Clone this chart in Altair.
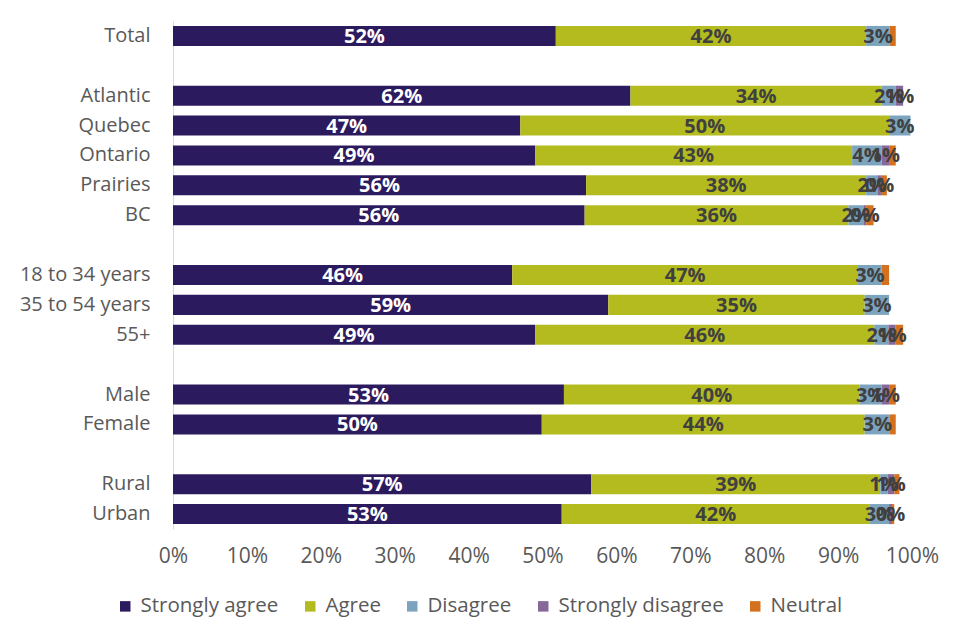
import altair as alt
import pandas as pd

categories = ["Total", "Atlantic", "Quebec", "Ontario", "Prairies", "BC",
              "18 to 34 years", "35 to 54 years", "55+", "Male", "Female", "Rural", "Urban"]
responses = ["Strongly agree", "Agree", "Disagree", "Strongly disagree", "Neutral"]
colors = ["#2C1A5E", "#B3BB1F", "#7DA4BE", "#86699A", "#D5701E"]

strongly_agree = [51.8, 61.9, 47.0, 49.0, 55.9, 55.7, 45.9, 58.9, 49.0, 52.9, 49.9, 56.6, 52.6]
agree = [42.0, 34.0, 49.9, 42.9, 37.9, 35.7, 46.8, 34.7, 45.9, 40.0, 43.7, 39.1, 41.7]
disagree = [3.2, 1.9, 2.9, 4.0, 1.6, 2.1, 3.2, 3.3, 1.9, 3.0, 3.4, 1.0, 2.6]
strongly_disagree = [0.0, 1.0, 0.0, 1.0, 0.4, 0.3, 0.0, 0.0, 1.0, 1.0, 0.0, 0.9, 0.4]
neutral = [0.8, 0.0, 0.0, 0.9, 0.8, 1.0, 1.0, 0.0, 1.0, 0.9, 0.8, 0.7, 0.3]

row_order = ["Total", " ", "Atlantic", "Quebec", "Ontario", "Prairies", "BC", "  ",
             "18 to 34 years", "35 to 54 years", "55+", "   ", "Male", "Female", "    ",
             "Rural", "Urban"]
x_ticks = [0, 0.1, 0.2, 0.3, 0.4, 0.5, 0.6, 0.7, 0.8, 0.9, 1.0]

series = [strongly_agree, agree, disagree, strongly_disagree, neutral]
rows = []
for ri, (resp, vals) in enumerate(zip(responses, series)):
    for cat, v in zip(categories, vals):
        rows.append({"cat": cat, "response": resp, "order": ri, "value": v / 100.0})
df = pd.DataFrame(rows)

base = alt.Chart(df).transform_stack(
    stack="value", groupby=["cat"], sort=[alt.SortField("order")], as_=["v0", "v1"]
).transform_calculate(mid="(datum.v0 + datum.v1) / 2")

yenc = alt.Y("cat:N", scale=alt.Scale(domain=row_order, paddingInner=0.33, paddingOuter=0.165),
             axis=alt.Axis(title=None, ticks=False, labelFontSize=20, labelColor="#595959",
                           labelFont="Open Sans", labelPadding=23, domainColor="#D9D9D9",
                           domainWidth=1))

bars = base.mark_bar().encode(
    x=alt.X("v0:Q", scale=alt.Scale(domain=[0, 1], nice=False),
            axis=alt.Axis(title=None, values=x_ticks, format=".0%", grid=False, ticks=False,
                          domain=False, labelFontSize=21, labelColor="#595959",
                          labelFont="Open Sans", labelPadding=16, labelOverlap=False,
                          labelFlush=False)),
    x2="v1:Q",
    y=yenc,
    color=alt.Color("response:N", scale=alt.Scale(domain=responses, range=colors),
                    sort=responses,
                    legend=alt.Legend(title=None, orient="none", direction="horizontal",
                                      legendX=-58, legendY=575, symbolType="square",
                                      symbolSize=110, symbolStrokeWidth=0,
                                      labelFontSize=20.5, labelColor="#595959",
                                      labelFont="Open Sans", columnPadding=21,
                                      labelOffset=5, labelLimit=0)),
)

labels = base.transform_filter(
    "datum.response != 'Neutral' && datum.value > 0"
).mark_text(font="Open Sans", fontWeight="bold", fontSize=20, baseline="middle",
            align="center", dy=1).encode(
    x=alt.X("mid:Q"),
    y=alt.Y("cat:N"),
    text=alt.Text("value:Q", format=".0%"),
    color=alt.condition("datum.response == 'Strongly agree'", alt.value("white"),
                        alt.value("#404040")),
)

chart = alt.layer(bars, labels).properties(
    width=739, height=508,
    autosize=alt.AutoSizeParams(type="none"),
    padding={"left": 165, "top": 13, "right": 40, "bottom": 103},
).configure_view(stroke=None)

chart.save("out.html", embed_options={"renderer": "svg", "actions": False})
